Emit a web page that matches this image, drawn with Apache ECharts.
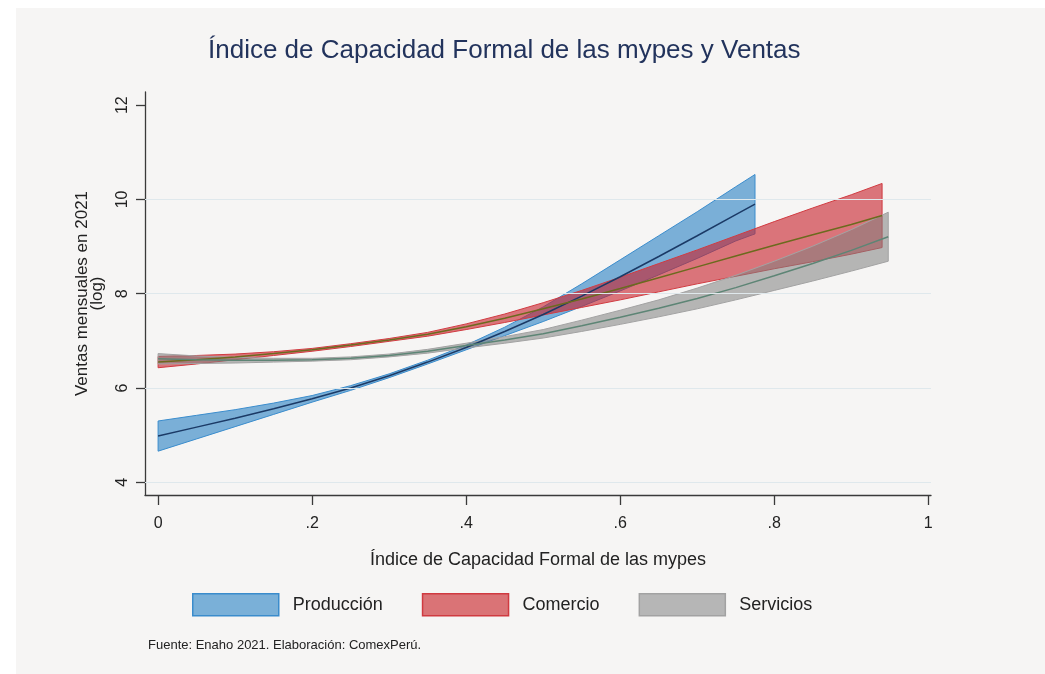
<!DOCTYPE html>
<html>
<head>
<meta charset="utf-8">
<script src="https://cdn.jsdelivr.net/npm/echarts@6/dist/echarts.min.js"></script>
<style>
  html, body { margin: 0; padding: 0; background: #ffffff; }
  #panel { position: absolute; left: 16px; top: 8px; right: 0; bottom: 0; background: #f6f5f4; }
  #chart { position: absolute; left: 0; top: 0; width: 1045px; height: 674px; }
</style>
</head>
<body>
<div id="panel"></div>
<div id="chart"></div>
<script>
// Producción
const prodX = [0, 0.05, 0.1, 0.15, 0.2, 0.25, 0.3, 0.35, 0.4, 0.45, 0.5, 0.55, 0.6, 0.65, 0.7, 0.75, 0.775];
const prodFit = [4.98, 5.17, 5.36, 5.56, 5.77, 6.0, 6.26, 6.55, 6.86, 7.2, 7.56, 7.95, 8.36, 8.79, 9.23, 9.68, 9.9];
const prodLow = [4.66, 4.92, 5.18, 5.44, 5.7, 5.95, 6.22, 6.51, 6.81, 7.11, 7.41, 7.73, 8.06, 8.4, 8.75, 9.12, 9.27];
const prodHigh = [5.3, 5.42, 5.54, 5.68, 5.84, 6.05, 6.3, 6.59, 6.91, 7.29, 7.72, 8.21, 8.72, 9.23, 9.74, 10.27, 10.53];

// Comercio
const comX = [0, 0.05, 0.1, 0.15, 0.2, 0.25, 0.3, 0.35, 0.4, 0.45, 0.5, 0.55, 0.6, 0.65, 0.7, 0.75, 0.8, 0.85, 0.9, 0.94];
const comFit = [6.55, 6.6, 6.66, 6.73, 6.81, 6.91, 7.02, 7.14, 7.3, 7.48, 7.68, 7.89, 8.11, 8.34, 8.57, 8.8, 9.03, 9.25, 9.47, 9.66];
const comLow = [6.43, 6.51, 6.6, 6.69, 6.78, 6.88, 6.99, 7.1, 7.24, 7.39, 7.55, 7.71, 7.87, 8.04, 8.21, 8.37, 8.53, 8.68, 8.84, 8.98];
const comHigh = [6.67, 6.69, 6.72, 6.77, 6.84, 6.94, 7.05, 7.18, 7.36, 7.57, 7.81, 8.07, 8.35, 8.64, 8.93, 9.23, 9.53, 9.82, 10.1, 10.34];

// Servicios
const serX = [0, 0.05, 0.1, 0.15, 0.2, 0.25, 0.3, 0.35, 0.4, 0.45, 0.5, 0.55, 0.6, 0.65, 0.7, 0.75, 0.8, 0.85, 0.9, 0.948];
const serFit = [6.62, 6.6, 6.59, 6.59, 6.6, 6.63, 6.69, 6.78, 6.9, 7.02, 7.15, 7.32, 7.5, 7.69, 7.9, 8.13, 8.38, 8.64, 8.92, 9.21];
const serLow = [6.51, 6.52, 6.53, 6.55, 6.57, 6.6, 6.66, 6.74, 6.85, 6.95, 7.06, 7.2, 7.35, 7.51, 7.68, 7.87, 8.07, 8.27, 8.48, 8.69];
const serHigh = [6.73, 6.68, 6.65, 6.63, 6.63, 6.66, 6.72, 6.82, 6.95, 7.09, 7.24, 7.44, 7.65, 7.87, 8.12, 8.39, 8.69, 9.01, 9.36, 9.73];

// ejes
const xTicks = [0, 0.2, 0.4, 0.6, 0.8, 1];
const xTickLabels = ["0", ".2", ".4", ".6", ".8", "1"];
const yTicks = [4, 6, 8, 10, 12];
const yGridLines = [4, 6, 8, 10];

const legendNames = ["Producción", "Comercio", "Servicios"];

const chart = echarts.init(document.getElementById("chart"));

// banda de confianza como un solo polígono
function bandSeries(name, xs, low, high, fill, stroke) {
  return {
    name: name,
    type: "custom",
    data: xs.map((x, i) => [x, low[i], high[i]]),
    encode: { x: 0, y: [1, 2] },
    itemStyle: { color: fill, borderColor: stroke },
    renderItem: function (params, api) {
      if (params.dataIndex !== 0) return null;
      const pts = [];
      for (let i = 0; i < xs.length; i++) pts.push(api.coord([xs[i], high[i]]));
      for (let i = xs.length - 1; i >= 0; i--) pts.push(api.coord([xs[i], low[i]]));
      return {
        type: "polygon",
        shape: { points: pts },
        style: { fill: fill, stroke: stroke, lineWidth: 1 },
      };
    },
  };
}

function fitSeries(name, xs, ys, color) {
  return {
    name: name,
    type: "line",
    data: xs.map((x, i) => [x, ys[i]]),
    showSymbol: false,
    lineStyle: { color: color, width: 1.5 },
    itemStyle: { color: color },
  };
}

const font = "Liberation Sans, Arial, sans-serif";

const option = {
  backgroundColor: "transparent",
  animation: false,
  textStyle: { fontFamily: font },
  title: [
    {
      text: "Índice de Capacidad Formal de las mypes y Ventas",
      left: 203,
      top: 33,
      textStyle: { fontSize: 26, fontWeight: "normal", color: "#22335c", fontFamily: font },
    },
    {
      text: "Fuente: Enaho 2021. Elaboración: ComexPerú.",
      left: 143,
      top: 634,
      textStyle: { fontSize: 13, fontWeight: "normal", color: "#222", fontFamily: font },
    },
  ],
  legend: {
    left: 192,
    top: 593,
    padding: 0,
    itemWidth: 86,
    itemHeight: 22,
    itemGap: 39,
    icon: "rect",
    textStyle: { fontSize: 18, color: "#222", padding: [0, 0, 0, 9], fontFamily: font },
    data: [
      { name: legendNames[0], itemStyle: { color: "rgba(122,176,216,1)", borderColor: "#3a8ccc", borderWidth: 1.5 } },
      { name: legendNames[1], itemStyle: { color: "rgba(218,115,118,1)", borderColor: "#d03a40", borderWidth: 1.5 } },
      { name: legendNames[2], itemStyle: { color: "rgba(182,182,182,1)", borderColor: "#a2a2a2", borderWidth: 1.5 } },
    ],
  },
  grid: { left: 145, right: 114, top: 92, bottom: 179 },
  xAxis: {
    type: "value",
    min: -0.017,
    max: 1.0035,
    name: "Índice de Capacidad Formal de las mypes",
    nameLocation: "middle",
    nameGap: 56,
    nameTextStyle: { fontSize: 18, color: "#222", fontFamily: font },
    axisLine: { onZero: false, lineStyle: { color: "#3a3a3a", width: 1.3 } },
    axisTick: { customValues: xTicks, length: 10, lineStyle: { color: "#3a3a3a", width: 1.3 } },
    axisLabel: {
      customValues: xTicks,
      margin: 21,
      fontSize: 16,
      color: "#222",
      formatter: function (v) {
        const i = xTicks.findIndex((t) => Math.abs(t - v) < 1e-9);
        return i >= 0 ? xTickLabels[i] : "";
      },
    },
    splitLine: { show: false },
  },
  yAxis: {
    type: "value",
    min: 3.73,
    max: 12.28,
    name: "Ventas mensuales en 2021\n(log)",
    nameLocation: "middle",
    nameGap: 40,
    nameTextStyle: { fontSize: 17, lineHeight: 15, color: "#222", fontFamily: font },
    axisLine: { show: true, onZero: false, lineStyle: { color: "#3a3a3a", width: 1.3 } },
    axisTick: { show: true, customValues: yTicks, length: 9, lineStyle: { color: "#3a3a3a", width: 1.3 } },
    axisLabel: { customValues: yTicks, rotate: 90, margin: 14, fontSize: 16, color: "#222" },
    splitLine: { show: false },
  },
  series: [
    {
      name: "grid",
      type: "line",
      data: [],
      silent: true,
      markLine: {
        silent: true,
        symbol: "none",
        label: { show: false },
        lineStyle: { color: "#dfe8ec", width: 1, type: "solid" },
        data: yGridLines.map((v) => ({ yAxis: v })),
      },
    },
    bandSeries(legendNames[0], prodX, prodLow, prodHigh, "rgba(20,116,192,0.55)", "#3a8ccc"),
    bandSeries(legendNames[1], comX, comLow, comHigh, "rgba(200,30,40,0.6)", "#d03a40"),
    bandSeries(legendNames[2], serX, serLow, serHigh, "rgba(128,128,128,0.55)", "#a2a2a2"),
    fitSeries("Producción ajuste", prodX, prodFit, "#1b3a66"),
    fitSeries("Comercio ajuste", comX, comFit, "#6c6a1e"),
    fitSeries("Servicios ajuste", serX, serFit, "#5d8575"),
  ],
};

chart.setOption(option);
</script>
</body>
</html>
